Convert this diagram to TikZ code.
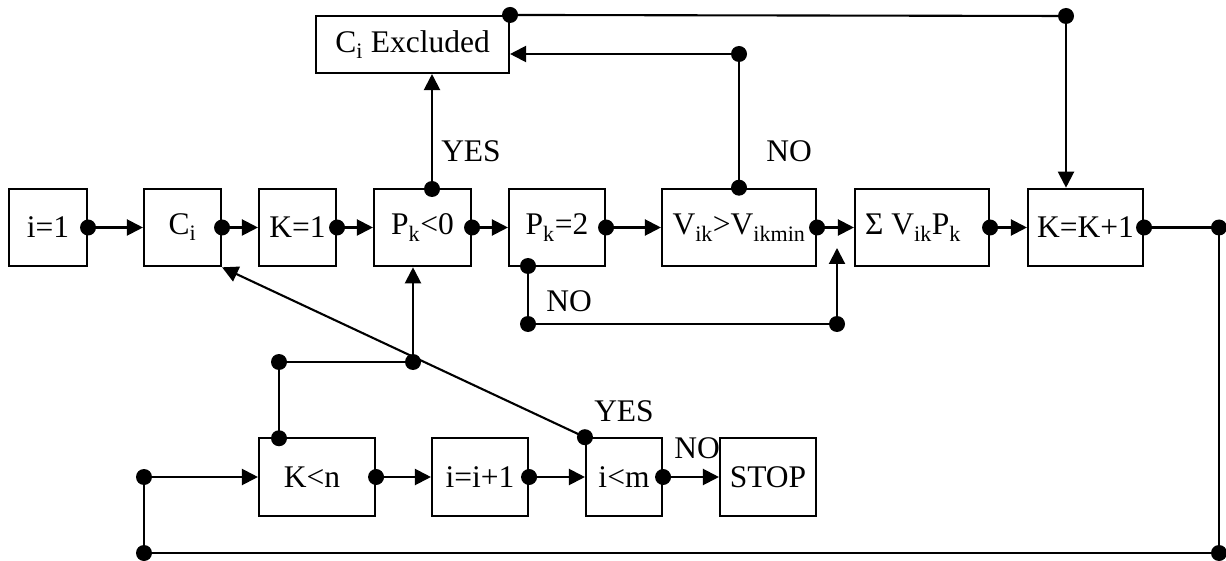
\documentclass[tikz,border=0pt]{standalone}
\usepackage{fontspec}
\setmainfont{Liberation Serif}
\usetikzlibrary{arrows.meta}
\newcommand{\sbs}[1]{\textsubscript{#1}}

\begin{document}
\begin{tikzpicture}[x=1pt,y=-1pt,
  every node/.style={font=\fontsize{31.5}{37}\selectfont},
  box/.style={draw, line width=2.1pt, inner sep=0pt, minimum height=77.5pt},
  dot/.style={circle, fill, inner sep=0pt, minimum size=16pt},
  lbl/.style={inner sep=0pt},
  conn/.style={line width=2.1pt},
  arr/.style={conn, -{Triangle[length=16pt,width=16pt]}}]

\useasboundingbox (0,0) rectangle (1226,561);

% main row
\node[box, minimum width=78pt]  (i1)  at (48,227.5)   {i=1};
\node[box, minimum width=77pt]  (ci)  at (182.5,227.5) {C\sbs{i}};
\node[box, minimum width=77pt]  (k1)  at (297.5,227.5) {K=1};
\node[box, minimum width=97pt]  (pk0) at (422.5,227.5) {P\sbs{k}<0};
\node[box, minimum width=96pt]  (pk2) at (557,227.5)   {P\sbs{k}=2};
\node[box, minimum width=154pt] (v)   at (739,227.5)   {V\sbs{ik}>V\sbs{ikmin}};
\node[box, minimum width=134pt] (sig) at (922,227.5)   {Σ V\sbs{ik}P\sbs{k}\hspace*{18pt}};
\node[box, minimum width=115pt] (kk1) at (1085.5,227.5) {K=K+1};

% excluded box
\node[box, minimum width=193pt, minimum height=57pt] (ex) at (412.5,44.5) {C\sbs{i} Excluded};

% lower row
\node[box, minimum width=116pt] (kn)   at (317,477) {K<n\hspace*{10pt}};
\node[box, minimum width=96pt]  (ii1)  at (480,477) {i=i+1};
\node[box, minimum width=76pt]  (im)   at (624,477) {i<m};
\node[box, minimum width=96pt]  (stop) at (768,477) {STOP};

% junction points
\coordinate (jT)   at (1066,16);
\coordinate (pkt)  at (432,189);
\coordinate (vt)   at (739,54);
\coordinate (pkb)  at (528,266);
\coordinate (nb1)  at (528,324);
\coordinate (nb2)  at (837,324);
\coordinate (nbt)  at (837,248);
\coordinate (jR1)  at (1219,227.5);
\coordinate (jR2)  at (1219,553);
\coordinate (jL2)  at (144,553);
\coordinate (jL1)  at (144,477);
\coordinate (knt)  at (279,438.25);
\coordinate (jK1)  at (279,362);
\coordinate (jK2)  at (413,362);

% main row flow
\draw[arr] (i1.east)  -- (ci.west);
\draw[arr] (ci.east)  -- (k1.west);
\draw[arr] (k1.east)  -- (pk0.west);
\draw[arr] (pk0.east) -- (pk2.west);
\draw[arr] (pk2.east) -- (v.west);
\draw[arr] (v.east)   -- (sig.west);
\draw[arr] (sig.east) -- (kk1.west);

% exclusion paths
\draw[arr] (pkt) -- (pkt |- ex.south);
\draw[conn] (v.north) -- (vt);
\draw[arr] (vt) -- (vt -| ex.east);
\draw[conn] (ex.north east) -- (jT);
\draw[arr] (jT) -- (jT |- kk1.north);

% bypass of the test
\draw[conn] (pkb) -- (nb1) -- (nb2);
\draw[arr] (nb2) -- (nbt);

% outer loop
\draw[conn] (kk1.east) -- (jR1) -- (jR2) -- (jL2) -- (jL1);
\draw[arr] (jL1) -- (kn.west);
\draw[arr] (kn.east)  -- (ii1.west);
\draw[arr] (ii1.east) -- (im.west);
\draw[arr] (im.east)  -- (stop.west);
\draw[conn] (knt) -- (jK1) -- (jK2);
\draw[arr] (jK2) -- (jK2 |- pk0.south);
\draw[arr] (im.north west) -- (ci.south east);

% dots
\node[dot] (d1)  at (i1.east)  {};
\node[dot] (d2)  at (ci.east)  {};
\node[dot] (d3)  at (k1.east)  {};
\node[dot] (d4)  at (pk0.east) {};
\node[dot] (d5)  at (pk2.east) {};
\node[dot] (d6)  at (v.east)   {};
\node[dot] (d7)  at (sig.east) {};
\node[dot] (d8)  at (kk1.east) {};
\node[dot] (d9)  at (pkt) {};
\node[dot] (d10) at (v.north) {};
\node[dot] (d11) at (vt) {};
\node[dot] (d12) at (ex.north east) {};
\node[dot] (d13) at (jT) {};
\node[dot] (d14) at (pkb) {};
\node[dot] (d15) at (nb1) {};
\node[dot] (d16) at (nb2) {};
\node[dot] (d17) at (jR1) {};
\node[dot] (d18) at (jR2) {};
\node[dot] (d19) at (jL2) {};
\node[dot] (d20) at (jL1) {};
\node[dot] (d21) at (kn.east) {};
\node[dot] (d22) at (ii1.east) {};
\node[dot] (d23) at (im.east) {};
\node[dot] (d24) at (knt) {};
\node[dot] (d25) at (jK1) {};
\node[dot] (d26) at (jK2) {};
\node[dot] (d27) at (im.north west) {};

% labels
\node[lbl] (yes1) at (471,151) {YES};
\node[lbl] (no1)  at (789,151) {NO};
\node[lbl] (no2)  at (569,301) {NO};
\node[lbl] (yes2) at (624,411) {YES};
\node[lbl] (no3)  at (697,448) {NO};
\end{tikzpicture}
\end{document}
